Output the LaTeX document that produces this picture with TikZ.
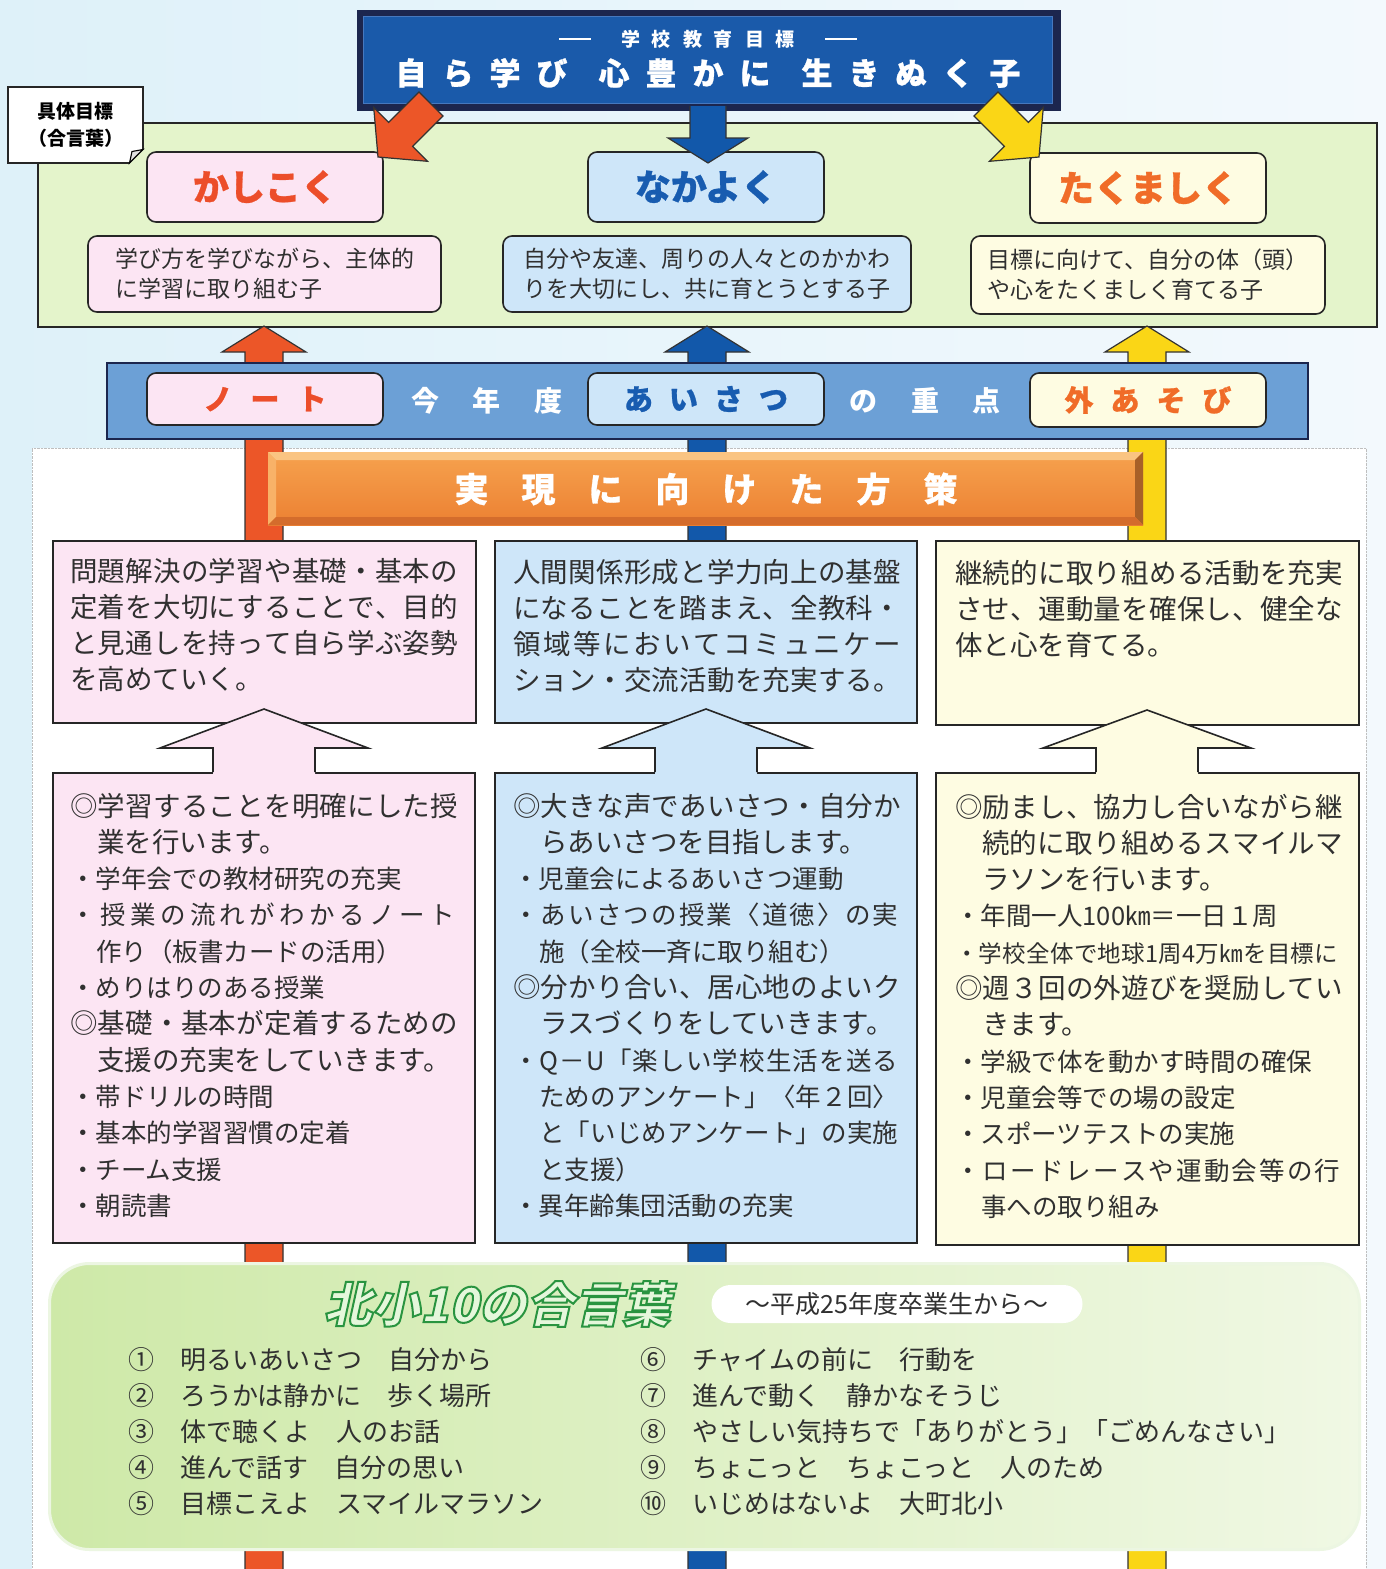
\documentclass[tikz,border=0pt]{standalone}
\usepackage{fontspec}
\setmainfont{Noto Sans CJK JP}
\newfontfamily\ttlfont[FakeSlant=0.22]{Noto Sans CJK JP}
\newfontfamily\heavy[BoldFeatures={FakeBold=0.8}]{Noto Sans CJK JP}
\usetikzlibrary{calc}

\definecolor{bgL}{RGB}{222,241,249}
\definecolor{bgR}{RGB}{243,249,253}
\definecolor{navy}{RGB}{28,38,78}
\definecolor{bannerB}{RGB}{26,90,170}
\definecolor{bannerL}{RGB}{70,120,190}
\definecolor{greenF}{RGB}{228,244,203}
\definecolor{pinkF}{RGB}{252,229,243}
\definecolor{blueF}{RGB}{206,230,249}
\definecolor{yelF}{RGB}{254,252,226}
\definecolor{redT}{RGB}{236,78,42}
\definecolor{blueT}{RGB}{24,92,176}
\definecolor{oraT}{RGB}{240,108,40}
\definecolor{bandB}{RGB}{108,160,214}
\definecolor{arO}{RGB}{236,86,40}
\definecolor{arB}{RGB}{18,88,170}
\definecolor{arY}{RGB}{250,214,22}
\definecolor{txt}{RGB}{48,48,48}
\definecolor{botG1}{RGB}{206,233,168}
\definecolor{botG2}{RGB}{240,248,228}
\definecolor{botEdge}{RGB}{236,246,226}
\definecolor{ttlG}{RGB}{40,150,64}
\definecolor{hsTop}{RGB}{246,162,78}
\definecolor{hsBot}{RGB}{236,128,50}
\definecolor{bvT}{RGB}{250,196,130}
\definecolor{bvL}{RGB}{248,178,104}
\definecolor{bvR}{RGB}{168,96,40}
\definecolor{bvB}{RGB}{212,108,44}

\newcommand\sk[1]{\hspace{#1pt}}
\newcommand\sm{\fontsize{25.5}{30}\selectfont}
\newcommand\dashbar{\raisebox{6pt}{\rule{32pt}{2.6pt}}}
\makeatletter
\newcommand\jl[2]{\hbox to #1pt{\let\jl@sep\relax\@tfor\jl@c:=#2\do{\jl@sep\jl@c\let\jl@sep\hfil}}}
\makeatother
\newcommand\tlines[6][]{\foreach \tx [count=\i] in {#6}{\node[tl,#1] (#2\i) at (#3,{#4+#5*(\i-1)}) {\tx};}}

\tikzset{
  frame/.style={draw=black!85, line width=1.6pt},
  boxnw/.style={frame, anchor=north west, inner sep=0pt},
  rbox/.style={frame, rounded corners=9pt, inner sep=0pt},
  tl/.style={inner sep=0pt, anchor=base west, text=txt, font=\fontsize{27.5}{36}\selectfont},
  ttl/.style={font=\heavy\fontsize{36}{36}\selectfont\bfseries},
  desc/.style={rbox, align=left, text=txt, font=\fontsize{23}{30}\selectfont},
  bandtxt/.style={font=\heavy\fontsize{29}{29}\selectfont\bfseries},
  arrowline/.style={draw=black!80, line width=1.2pt, line join=miter},
}

\begin{document}
\begin{tikzpicture}[x=1pt,y=-1pt]
\useasboundingbox (0,0) rectangle (1386,1569);
% background
\shade[left color=bgL, right color=bgR] (0,0) rectangle (1386,1569);
\fill[white] (32,448) rectangle (1366,1569);
\draw[black!25, densely dotted] (32,1569) -- (32,448) -- (1366,448) -- (1366,1569);

% goal area
\node[boxnw, fill=greenF, minimum width=1339pt, minimum height=204pt] (goalArea) at (37,122) {};

% vertical bars with arrow heads
\foreach \cx/\col in {264/arO, 707/arB, 1147/arY}{
  \draw[arrowline, fill=\col] (\cx-19,1575) -- (\cx-19,352) -- (\cx-42,352) -- (\cx,326) -- (\cx+42,352) -- (\cx+19,352) -- (\cx+19,1575);
}

% band of this year's focus
\node[boxnw, draw=navy, fill=bandB, minimum width=1201pt, minimum height=76pt] (band) at (106,362) {};
\node[rbox, fill=pinkF, minimum width=236pt, minimum height=52pt, bandtxt, text=redT] (noteBox) at (265,399) {ノ\sk{18}ー\sk{18}ト};
\node[rbox, fill=blueF, minimum width=236pt, minimum height=52pt, bandtxt, text=blueT] (aisatsuBox) at (706,399) {あ\sk{16}い\sk{16}さ\sk{16}つ};
\node[rbox, fill=yelF, minimum width=236pt, minimum height=54pt, bandtxt, text=oraT] (sotoBox) at (1148,400) {外\sk{17}あ\sk{17}そ\sk{17}び};
\node[text=white, font=\fontsize{28}{28}\selectfont\bfseries] (bandL) at (487,401) {今\sk{34}年\sk{34}度};
\node[text=white, font=\fontsize{28}{28}\selectfont\bfseries] (bandR) at (925,401) {の\sk{34}重\sk{34}点};

% strategy heading bar
\node[anchor=north west, inner sep=0pt, minimum width=875pt, minimum height=73pt, top color=hsTop, bottom color=hsBot] (hosaku) at (268,452) {};
\fill[bvT] (268,452) -- (1143,452) -- (1135,460) -- (276,460) -- cycle;
\fill[bvL] (268,452) -- (276,460) -- (276,517) -- (268,525) -- cycle;
\fill[bvR] (1143,452) -- (1143,525) -- (1135,517) -- (1135,460) -- cycle;
\fill[bvB] (268,525) -- (1143,525) -- (1135,517) -- (276,517) -- cycle;
\node[text=white, font=\heavy\fontsize{34}{34}\selectfont\bfseries] (hosakuTxt) at (706,489) {実\sk{33}現\sk{33}に\sk{33}向\sk{33}け\sk{33}た\sk{33}方\sk{33}策};

% strategy boxes (upper)
\node[boxnw, fill=pinkF, minimum width=423pt, minimum height=182pt] (pinkUp) at (52,540) {};
\node[boxnw, fill=blueF, minimum width=422pt, minimum height=182pt] (blueUp) at (494,540) {};
\node[boxnw, fill=yelF, minimum width=423pt, minimum height=184pt] (yelUp) at (935,540) {};
% strategy boxes (lower)
\node[boxnw, fill=pinkF, minimum width=422pt, minimum height=470pt] (pinkLow) at (52,772) {};
\node[boxnw, fill=blueF, minimum width=422pt, minimum height=470pt] (blueLow) at (494,772) {};
\node[boxnw, fill=yelF, minimum width=423pt, minimum height=472pt] (yelLow) at (935,772) {};

% hollow arrows lower -> upper
\foreach \cx/\col/\ty in {264/pinkF/709, 706/blueF/709, 1147/yelF/710}{
  \fill[\col] (\cx-51,775) -- (\cx-51,748) -- (\cx-104,748) -- (\cx,\ty) -- (\cx+104,748) -- (\cx+51,748) -- (\cx+51,775) -- cycle;
  \draw[frame, line join=miter] (\cx-51,772) -- (\cx-51,748) -- (\cx-104,748) -- (\cx,\ty) -- (\cx+104,748) -- (\cx+51,748) -- (\cx+51,772);
}

% upper texts
\tlines{pu}{70}{581}{36}{\jl{388}{問題解決の学習や基礎・基本の},\jl{388}{定着を大切にすることで、目的},\jl{388}{と見通しを持って自ら学ぶ姿勢},を高めていく。}
\tlines{bu}{513}{582}{36}{\jl{388}{人間関係形成と学力向上の基盤},\jl{388}{になることを踏まえ、全教科・},\jl{388}{領域等においてコミュニケー},\jl{388}{ション・交流活動を充実する。}}
\tlines{yu}{955}{583}{36}{\jl{388}{継続的に取り組める活動を充実},\jl{388}{させ、運動量を確保し、健全な},体と心を育てる。}

% lower texts
\tlines{pl}{70}{816}{36.3}{\jl{388}{◎学習することを明確にした授},\sk{27}業を行います。,{\sm ・学年会での教材研究の充実},{\sm\jl{385}{・授業の流れがわかるノート}},{\sm\sk{26}作り（板書カードの活用）},{\sm ・めりはりのある授業},\jl{388}{◎基礎・基本が定着するための},\sk{27}支援の充実をしていきます。,{\sm ・帯ドリルの時間},{\sm ・基本的学習習慣の定着},{\sm ・チーム支援},{\sm ・朝読書}}
\tlines{bl}{513}{816}{36.3}{\jl{388}{◎大きな声であいさつ・自分か},\sk{27}らあいさつを目指します。,{\sm ・児童会によるあいさつ運動},{\sm\jl{385}{・あいさつの授業〈道徳〉の実}},{\sm\sk{26}施（全校一斉に取り組む）},\jl{388}{◎分かり合い、居心地のよいク},\sk{27}ラスづくりをしていきます。,{\sm\jl{385}{・Q－U「楽しい学校生活を送る}},{\sm\sk{26}\jl{359}{ためのアンケート」〈年２回〉}},{\sm\sk{26}\jl{359}{と「いじめアンケート」の実施}},{\sm\sk{26}と支援）},{\sm ・異年齢集団活動の充実}}
\tlines{yl}{955}{817}{36.3}{\jl{388}{◎励まし、協力し合いながら継},\sk{27}\jl{361}{続的に取り組めるスマイルマ},\sk{27}ラソンを行います。,{\sm ・年間一人100㎞＝一日１周},{\fontsize{23.5}{30}\selectfont\jl{383}{・学校全体で地球1周4万㎞を目標に}},\jl{388}{◎週３回の外遊びを奨励してい},\sk{27}きます。,{\sm ・学級で体を動かす時間の確保},{\sm ・児童会等での場の設定},{\sm ・スポーツテストの実施},{\sm\jl{385}{・ロードレースや運動会等の行}},{\sm\sk{26}事への取り組み}}

% bottom box
\node[anchor=north west, inner sep=0pt, minimum width=1310pt, minimum height=286pt, rounded corners=40pt, draw=botEdge, line width=3pt, left color=botG1, right color=botG2] (kotobaBox) at (48,1262) {};
\node[text=ttlG, font=\ttlfont\bfseries\fontsize{48}{48}\selectfont] (kotobaTtl) at (497,1304) {\special{pdf:literal direct q 2 Tr 2 w 0.16 0.58 0.25 RG 0.9 0.97 0.86 rg}北小10の合言葉\special{pdf:literal direct Q}};
\node[fill=white, rounded corners=19pt, minimum width=371pt, minimum height=38pt, text=txt, font=\fontsize{25}{25}\selectfont] (pill) at (897,1304) {～平成25年度卒業生から～};
\tlines[font=\fontsize{26}{30}\selectfont]{kl}{128}{1369}{36.2}{①　明るいあいさつ　自分から,②　ろうかは静かに　歩く場所,③　体で聴くよ　人のお話,④　進んで話す　自分の思い,⑤　目標こえよ　スマイルマラソン}
\tlines[font=\fontsize{26}{30}\selectfont]{kr}{640}{1369}{36.2}{⑥　チャイムの前に　行動を,⑦　進んで動く　静かなそうじ,⑧　やさしい気持ちで「ありがとう」「ごめんなさい」,⑨　ちょこっと　ちょこっと　人のため,⑩　いじめはないよ　大町北小}

% goal boxes
\node[rbox, fill=pinkF, minimum width=236pt, minimum height=70pt, ttl, text=redT] (kashikoku) at (265,187) {かしこく};
\node[rbox, fill=blueF, minimum width=236pt, minimum height=70pt, ttl, text=blueT] (nakayoku) at (706,187) {なかよく};
\node[rbox, fill=yelF, minimum width=236pt, minimum height=70pt, ttl, text=oraT] (takumashiku) at (1148,188) {たくましく};
\node[desc, fill=pinkF, minimum width=353pt, minimum height=76pt] (descK) at (264.5,274) {学び方を学びながら、主体的\\に学習に取り組む子};
\node[desc, fill=blueF, minimum width=408pt, minimum height=76pt] (descN) at (707,274) {自分や友達、周りの人々とのかかわ\\りを大切にし、共に育とうとする子};
\node[desc, fill=yelF, minimum width=354pt, minimum height=78pt] (descT) at (1148,275) {目標に向けて、自分の体（頭）\\や心をたくましく育てる子};

% label
\node[frame, line width=1.3pt, fill=white, minimum width=135pt, minimum height=76pt, inner sep=0pt, align=center, font=\fontsize{19}{27}\selectfont\bfseries] (gutai) at (75.5,125) {具体目標\\（合言葉）};
\fill[greenF] (144,164) -- (129,164) -- (144,149) -- cycle;
\draw[line width=1.1pt, fill=black!12] (129.5,163) -- (132,151.5) -- (143,149.5) -- cycle;

% banner
\node[boxnw, draw=navy, line width=3pt, fill=navy, minimum width=701pt, minimum height=98pt] (bannerOut) at (357,10) {};
\node[anchor=north west, inner sep=0pt, fill=bannerB, draw=bannerL, line width=0.8pt, minimum width=689pt, minimum height=87pt] (banner) at (363,15.5) {};
\node[text=white, font=\fontsize{19}{19}\selectfont\bfseries] (bannerSub) at (708,39) {\dashbar\sk{30}学\sk{12}校\sk{12}教\sk{12}育\sk{12}目\sk{12}標\sk{30}\dashbar};
\node[text=white, font=\heavy\fontsize{31}{31}\selectfont\bfseries] (bannerMain) at (708,73) {自\sk{16}ら\sk{16}学\sk{16}び\sk{31}心\sk{16}豊\sk{16}か\sk{16}に\sk{31}生\sk{16}き\sk{16}ぬ\sk{16}く\sk{16}子};

% arrows from banner to goals
\draw[arrowline, fill=arO] (378,157) -- (427.5,161.3) -- (412.6,146.4) -- (443,116) -- (419,92) -- (388.6,122.4) -- (373.7,107.5) -- cycle;
\draw[arrowline, fill=arY] (1039,157) -- (989.5,161.3) -- (1004.4,146.4) -- (974,116) -- (998,92) -- (1028.4,122.4) -- (1043.3,107.5) -- cycle;
\draw[arrowline, fill=arB] (690,106) -- (690,138) -- (668,138) -- (708,163) -- (748,138) -- (726,138) -- (726,106);
\end{tikzpicture}
\end{document}
